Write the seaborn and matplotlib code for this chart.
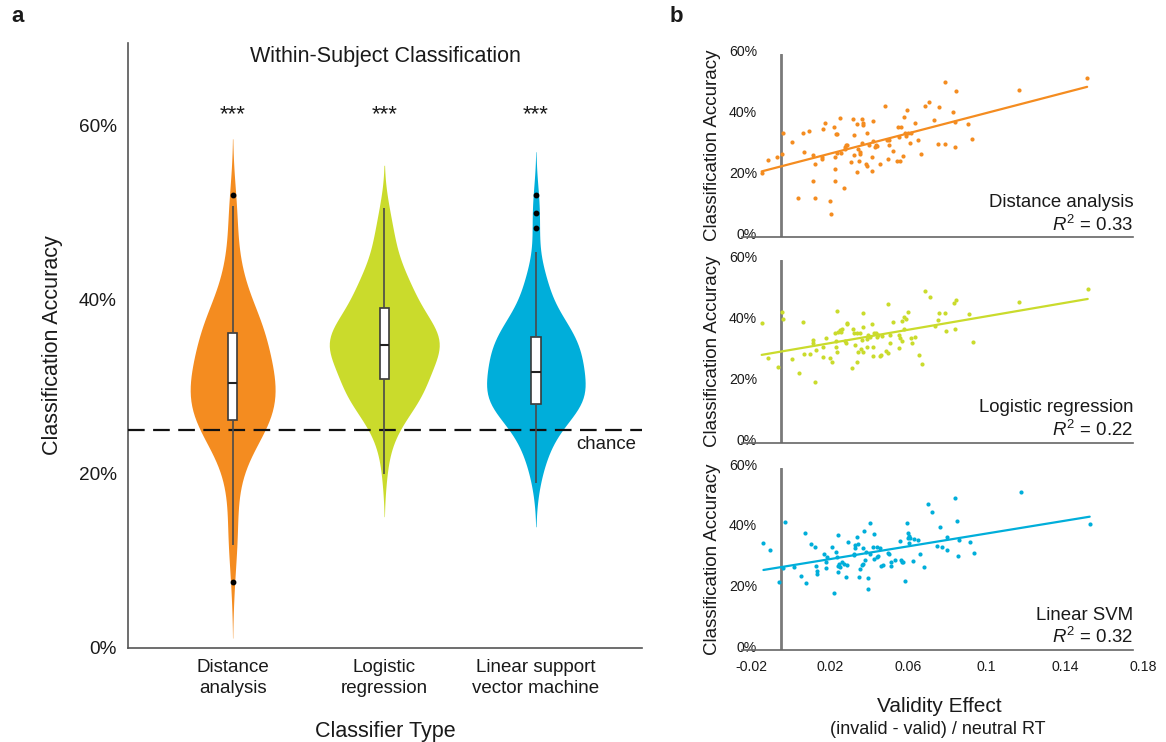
import numpy as np
import pandas as pd
import matplotlib
matplotlib.use("Agg")
import matplotlib.pyplot as plt
import seaborn as sns
from matplotlib.ticker import PercentFormatter, FixedLocator
from matplotlib.transforms import ScaledTranslation

# ---------------- data ----------------
classifiers = ["Distance\nanalysis", "Logistic\nregression", "Linear support\nvector machine"]
panel_names = ["Distance analysis", "Logistic regression", "Linear SVM"]
r2_labels = ["0.33", "0.22", "0.32"]
colors = ["#F48C20", "#CADB2C", "#00AEDA"]
chance_level = 0.25
stars = ["***", "***", "***"]

dist_x = [-0.0098, -0.0064, -0.0018, 0.0004, 0.0010, 0.0056, 0.0090, 0.0112, 0.0119, 0.0146,
          0.0163, 0.0166, 0.0175, 0.0175, 0.0211, 0.0211, 0.0217, 0.0226, 0.0250, 0.0257,
          0.0272, 0.0277, 0.0277, 0.0279, 0.0284, 0.0289, 0.0289, 0.0303, 0.0306, 0.0323,
          0.0325, 0.0328, 0.0333, 0.0337, 0.0357, 0.0368, 0.0371, 0.0371, 0.0388, 0.0391,
          0.0396, 0.0400, 0.0405, 0.0405, 0.0413, 0.0413, 0.0418, 0.0420, 0.0435, 0.0439,
          0.0442, 0.0449, 0.0463, 0.0463, 0.0470, 0.0473, 0.0483, 0.0487, 0.0493, 0.0507,
          0.0534, 0.0541, 0.0545, 0.0551, 0.0551, 0.0572, 0.0592, 0.0599, 0.0601, 0.0609,
          0.0616, 0.0623, 0.0630, 0.0635, 0.0640, 0.0643, 0.0647, 0.0660, 0.0664, 0.0684,
          0.0702, 0.0717, 0.0737, 0.0759, 0.0783, 0.0802, 0.0809, 0.0836, 0.0836, 0.0877,
          0.0887, 0.0890, 0.0894, 0.0955, 0.0976, 0.1214, 0.1564]
dist_y = [0.212, 0.253, 0.264, 0.273, 0.343, 0.313, 0.129, 0.343, 0.280, 0.347,
          0.268, 0.184, 0.240, 0.127, 0.262, 0.257, 0.355, 0.373, 0.118, 0.076,
          0.362, 0.262, 0.223, 0.183, 0.338, 0.338, 0.277, 0.389, 0.277, 0.161,
          0.290, 0.297, 0.301, 0.303, 0.247, 0.387, 0.269, 0.334, 0.371, 0.214,
          0.290, 0.249, 0.273, 0.279, 0.388, 0.308, 0.375, 0.367, 0.240, 0.233,
          0.343, 0.303, 0.262, 0.216, 0.314, 0.380, 0.295, 0.301, 0.299, 0.240,
          0.431, 0.319, 0.257, 0.319, 0.303, 0.284, 0.251, 0.360, 0.327, 0.251,
          0.362, 0.266, 0.393, 0.340, 0.332, 0.418, 0.343, 0.308, 0.343, 0.375,
          0.319, 0.273, 0.431, 0.443, 0.384, 0.304, 0.427, 0.507, 0.304, 0.410,
          0.377, 0.295, 0.480, 0.370, 0.321, 0.481, 0.520]

logreg_x = [-0.0098, -0.0064, -0.0016, 0.0004, 0.0013, 0.0059, 0.0093, 0.0115, 0.0120, 0.0149,
            0.0163, 0.0166, 0.0175, 0.0180, 0.0214, 0.0217, 0.0229, 0.0250, 0.0260, 0.0277,
            0.0280, 0.0282, 0.0286, 0.0286, 0.0292, 0.0303, 0.0306, 0.0311, 0.0327, 0.0333,
            0.0337, 0.0340, 0.0362, 0.0368, 0.0374, 0.0379, 0.0388, 0.0391, 0.0396, 0.0405,
            0.0410, 0.0413, 0.0418, 0.0418, 0.0422, 0.0439, 0.0442, 0.0447, 0.0453, 0.0466,
            0.0470, 0.0473, 0.0478, 0.0485, 0.0490, 0.0495, 0.0504, 0.0511, 0.0518, 0.0538,
            0.0545, 0.0547, 0.0555, 0.0558, 0.0575, 0.0601, 0.0604, 0.0609, 0.0618, 0.0618,
            0.0630, 0.0631, 0.0640, 0.0647, 0.0664, 0.0669, 0.0686, 0.0703, 0.0720, 0.0737,
            0.0763, 0.0785, 0.0802, 0.0810, 0.0839, 0.0841, 0.0882, 0.0891, 0.0896, 0.0959,
            0.0979, 0.1218, 0.1567]
logreg_y = [0.394, 0.277, 0.247, 0.429, 0.406, 0.274, 0.229, 0.396, 0.292, 0.292,
            0.337, 0.328, 0.200, 0.304, 0.315, 0.280, 0.345, 0.277, 0.264, 0.361,
            0.314, 0.335, 0.431, 0.297, 0.365, 0.370, 0.364, 0.372, 0.335, 0.328,
            0.390, 0.394, 0.245, 0.372, 0.361, 0.320, 0.359, 0.265, 0.299, 0.359,
            0.309, 0.337, 0.427, 0.379, 0.298, 0.313, 0.339, 0.354, 0.346, 0.390,
            0.285, 0.313, 0.361, 0.361, 0.346, 0.353, 0.285, 0.287, 0.350, 0.300,
            0.454, 0.293, 0.326, 0.354, 0.396, 0.354, 0.310, 0.343, 0.335, 0.399,
            0.372, 0.414, 0.405, 0.429, 0.343, 0.326, 0.348, 0.289, 0.257, 0.497,
            0.478, 0.383, 0.403, 0.425, 0.425, 0.366, 0.460, 0.372, 0.470, 0.423,
            0.332, 0.462, 0.505]

svm_x = [-0.0089, -0.0055, -0.0007, 0.0013, 0.0023, 0.0069, 0.0103, 0.0124, 0.0129, 0.0156,
         0.0175, 0.0180, 0.0183, 0.0187, 0.0221, 0.0228, 0.0231, 0.0236, 0.0260, 0.0269,
         0.0282, 0.0286, 0.0291, 0.0294, 0.0294, 0.0299, 0.0303, 0.0311, 0.0320, 0.0333,
         0.0337, 0.0345, 0.0371, 0.0374, 0.0379, 0.0381, 0.0391, 0.0396, 0.0401, 0.0405,
         0.0413, 0.0418, 0.0422, 0.0427, 0.0430, 0.0436, 0.0447, 0.0447, 0.0453, 0.0456,
         0.0473, 0.0476, 0.0476, 0.0490, 0.0493, 0.0498, 0.0504, 0.0512, 0.0521, 0.0545,
         0.0550, 0.0562, 0.0562, 0.0584, 0.0609, 0.0613, 0.0618, 0.0623, 0.0635, 0.0644,
         0.0647, 0.0647, 0.0652, 0.0654, 0.0661, 0.0674, 0.0678, 0.0698, 0.0712, 0.0729,
         0.0749, 0.0773, 0.0797, 0.0814, 0.0822, 0.0848, 0.0848, 0.0891, 0.0899, 0.0903,
         0.0908, 0.0967, 0.0988, 0.1226, 0.1577]
svm_y = [0.351, 0.329, 0.224, 0.271, 0.421, 0.274, 0.244, 0.384, 0.220, 0.348,
         0.339, 0.278, 0.261, 0.251, 0.315, 0.269, 0.291, 0.306, 0.339, 0.189,
         0.321, 0.306, 0.258, 0.378, 0.276, 0.284, 0.274, 0.288, 0.282, 0.240,
         0.280, 0.355, 0.313, 0.317, 0.337, 0.346, 0.373, 0.350, 0.239, 0.268,
         0.280, 0.284, 0.337, 0.392, 0.295, 0.324, 0.236, 0.202, 0.317, 0.417,
         0.340, 0.381, 0.299, 0.338, 0.307, 0.310, 0.337, 0.275, 0.279, 0.319,
         0.317, 0.288, 0.278, 0.295, 0.359, 0.295, 0.288, 0.291, 0.226, 0.418,
         0.385, 0.367, 0.375, 0.353, 0.367, 0.293, 0.365, 0.361, 0.316, 0.272,
         0.482, 0.455, 0.342, 0.406, 0.339, 0.328, 0.373, 0.500, 0.426, 0.308,
         0.363, 0.355, 0.320, 0.520, 0.415]

xs = [dist_x, logreg_x, svm_x]
ys = [dist_y, logreg_y, svm_y]

# ---------------- style ----------------
sns.set_theme(style="white")
plt.rcParams['font.family'] = ['Liberation Sans', 'DejaVu Sans']
plt.rcParams['mathtext.fontset'] = 'custom'
plt.rcParams['mathtext.rm'] = 'Liberation Sans'
plt.rcParams['mathtext.it'] = 'Liberation Sans:italic'
plt.rcParams['text.color'] = '#1a1a1a'
plt.rcParams['axes.labelcolor'] = '#1a1a1a'
plt.rcParams['xtick.color'] = '#1a1a1a'
plt.rcParams['ytick.color'] = '#1a1a1a'

fig = plt.figure(figsize=(11.66, 7.42), dpi=100)

# ---------------- panel a ----------------
df = pd.DataFrame({
    "Classifier": np.concatenate([[c] * len(y) for c, y in zip(classifiers, ys)]),
    "Accuracy": np.concatenate(ys),
})

violin_widths = [0.56, 0.725, 0.65]

axa = fig.add_axes([0.1098, 0.1267, 0.4408, 0.8158])
for i, cat in enumerate(classifiers):
    sub = df[df["Classifier"] == cat]
    sns.violinplot(data=sub, x="Classifier", y="Accuracy", order=classifiers,
                   color=colors[i], inner=None, linewidth=0, width=violin_widths[i],
                   cut=2, saturation=1, ax=axa)
axa.axhline(chance_level, color="#111111", ls=(0, (7.5, 3.8)), lw=1.6, zorder=3)
sns.boxplot(data=df, x="Classifier", y="Accuracy", order=classifiers,
            width=0.062, color="white", linecolor="#3a3a3a", linewidth=1.2,
            showcaps=False, saturation=1, ax=axa,
            boxprops=dict(zorder=4),
            medianprops=dict(color="#222222", linewidth=1.5, zorder=5),
            whiskerprops=dict(color="#4a4a4a", linewidth=1.2, zorder=4),
            flierprops=dict(marker="o", markerfacecolor="black",
                            markeredgecolor="black", markersize=3.2, zorder=5))

axa.set_xlim(-0.69, 2.70)
axa.set_ylim(0, 0.695)
axa.yaxis.set_major_locator(FixedLocator([0, 0.2, 0.4, 0.6]))
axa.yaxis.set_major_formatter(PercentFormatter(1.0, decimals=0))
axa.tick_params(axis="y", length=0, pad=8, labelsize=13.7)
axa.tick_params(axis="x", length=0, pad=8, labelsize=13.5)
for lab in axa.get_xticklabels():
    lab.set_linespacing(1.3)
axa.set_xlabel("Classifier Type", fontsize=15.5, labelpad=17)
axa.set_ylabel("Classification Accuracy", fontsize=15.5)
axa.yaxis.set_label_coords(-0.126, 0.5)
for s in ["top", "right"]:
    axa.spines[s].set_visible(False)
for s in ["left", "bottom"]:
    axa.spines[s].set_color("#555555")
    axa.spines[s].set_linewidth(1.2)

for i, st in enumerate(stars):
    axa.text(i, 0.612, st, ha="center", va="center", fontsize=16)
axa.text(0.5, 0.679, "Within-Subject Classification", transform=axa.get_yaxis_transform(),
         ha="center", va="center", fontsize=15.5)
axa.text(0.988, 0.234, "chance", transform=axa.get_yaxis_transform(),
         ha="right", va="center", fontsize=13.4)

# ---------------- panel b ----------------
rects = [[0.6361, 0.6802, 0.3359, 0.2470],
         [0.6361, 0.4034, 0.3359, 0.2462],
         [0.6361, 0.1240, 0.3359, 0.2457]]
for k in range(3):
    ax = fig.add_axes(rects[k])
    sns.regplot(x=np.array(xs[k]), y=np.array(ys[k]), ax=ax, ci=None, truncate=True,
                scatter_kws=dict(s=9, color=colors[k], linewidths=0, alpha=1),
                line_kws=dict(color=colors[k], lw=1.6))
    ax.set_xlim(-0.02, 0.18)
    ax.set_ylim(0, 0.6)
    ax.axvline(0, color="#7a7a7a", lw=2.0, zorder=0)
    ax.yaxis.set_major_locator(FixedLocator([0, 0.2, 0.4, 0.6]))
    ax.yaxis.set_major_formatter(PercentFormatter(1.0, decimals=0))
    ax.tick_params(axis="y", length=0, pad=-11, labelsize=10.2)
    for lab in ax.get_yticklabels():
        lab.set_transform(lab.get_transform() + ScaledTranslation(0, 3.5 / 100, fig.dpi_scale_trans))
    ax.xaxis.set_major_locator(FixedLocator([-0.02, 0.02, 0.06, 0.1, 0.14, 0.18]))
    if k == 2:
        ax.set_xticklabels(["-0.02", "0.02", "0.06", "0.1", "0.14", "0.18"])
        ax.tick_params(axis="x", length=0, pad=7, labelsize=10.2)
        for lab in ax.get_xticklabels():
            lab.set_transform(lab.get_transform() + ScaledTranslation(10 / 100, 0, fig.dpi_scale_trans))
    else:
        ax.tick_params(axis="x", length=0, labelbottom=False)
    ax.set_xlabel("")
    ax.set_ylabel("Classification Accuracy", fontsize=13.5)
    ax.yaxis.set_label_coords(-0.052, 0.5)
    for s in ["top", "right", "left"]:
        ax.spines[s].set_visible(False)
    ax.spines["bottom"].set_color("#666666")
    ax.spines["bottom"].set_linewidth(1.2)
    ax.text(1.0, 0.19, panel_names[k], transform=ax.transAxes, ha="right", va="center", fontsize=13.4)
    ax.text(1.0, 0.07, r"$R^2$ = " + r2_labels[k], transform=ax.transAxes, ha="right",
            va="center", fontsize=13.4)

fig.text(939 / 1166, 1 - 707 / 742, "Validity Effect", ha="center", va="center", fontsize=15)
fig.text(938 / 1166, 1 - 730 / 742, "(invalid - valid) / neutral RT", ha="center", va="center",
         fontsize=13)

fig.text(18 / 1166, 1 - 17 / 742, "a", ha="center", va="center", fontsize=16, fontweight="bold")
fig.text(676 / 1166, 1 - 17 / 742, "b", ha="center", va="center", fontsize=16, fontweight="bold")

fig.savefig("out.png", dpi=100)
